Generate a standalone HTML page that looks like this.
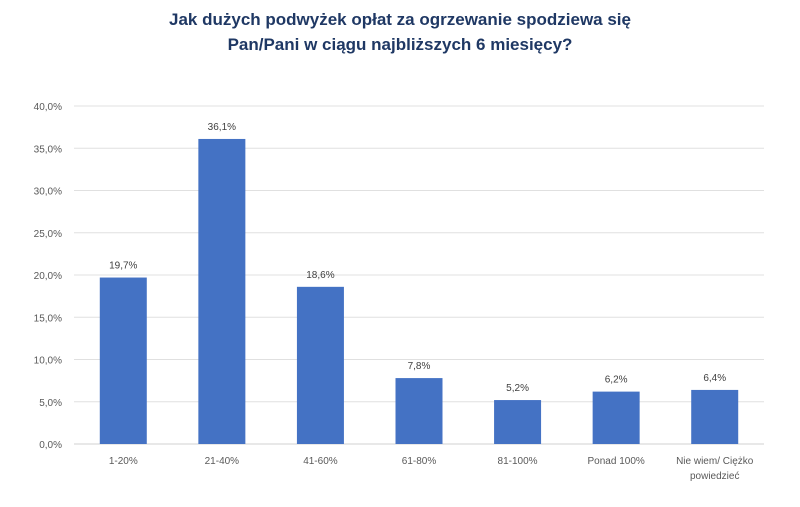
<!DOCTYPE html>
<html><head><meta charset="utf-8"><style>
body{margin:0;background:#fff;font-family:"Liberation Sans",sans-serif;}
svg text{font-family:"Liberation Sans",sans-serif;}
</style></head><body>
<svg width="800" height="502" viewBox="0 0 800 502">
<text x="400" y="25" text-anchor="middle" font-size="17" font-weight="bold" fill="#1f3864">Jak dużych podwyżek opłat za ogrzewanie spodziewa się</text>
<text x="400" y="50" text-anchor="middle" font-size="17" font-weight="bold" fill="#1f3864">Pan/Pani w ciągu najbliższych 6 miesięcy?</text>
<g id="grid"></g><g id="bars"></g><g id="labels"></g>
</svg>
<script>
const categories=["1-20%","21-40%","41-60%","61-80%","81-100%","Ponad 100%","Nie wiem/ Ciężko|powiedzieć"];
const values=[19.7,36.1,18.6,7.8,5.2,6.2,6.4];
const valueLabels=["19,7%","36,1%","18,6%","7,8%","5,2%","6,2%","6,4%"];
const ticks=[0,5,10,15,20,25,30,35,40];
const tickLabels=["0,0%","5,0%","10,0%","15,0%","20,0%","25,0%","30,0%","35,0%","40,0%"];
const NS="http://www.w3.org/2000/svg";
const L=74,R=764,T=106,B=444,MAX=40;
const y=v=>B-(v/MAX)*(B-T);
const bw=(R-L)/categories.length;
const x=i=>L+bw*(i+0.5);
function mk(tag,attrs,parent){const e=document.createElementNS(NS,tag);for(const k in attrs)e.setAttribute(k,attrs[k]);parent.appendChild(e);return e;}
const grid=document.getElementById('grid'),bars=document.getElementById('bars'),labels=document.getElementById('labels');
ticks.forEach((t,i)=>{
 const l=mk('line',{x1:L,x2:R,y1:y(t),y2:y(t),stroke:t===0?'#d0d0d0':'#e0e0e0','stroke-width':1},grid);
 
 
 const tx=mk('text',{x:62,y:y(t)+4,'text-anchor':'end','font-size':10,fill:'#595959'},grid);
 tx.textContent=tickLabels[i];
 
 
});
values.forEach((v,i)=>{
 const r=mk('rect',{x:x(i)-23.5,y:y(v),width:47,height:B-y(v),fill:'#4472c4'},bars);
 
 
 const t=mk('text',{x:x(i),y:y(v)-9,'text-anchor':'middle','font-size':10,fill:'#404040'},labels);
 t.textContent=valueLabels[i];
 
 
 categories[i].split('|').forEach((ln,j)=>{
  const c=mk('text',{x:x(i),y:464+j*15,'text-anchor':'middle','font-size':10,fill:'#595959'},labels);
  c.textContent=ln;
  
  
 });
});
</script>
</body></html>
